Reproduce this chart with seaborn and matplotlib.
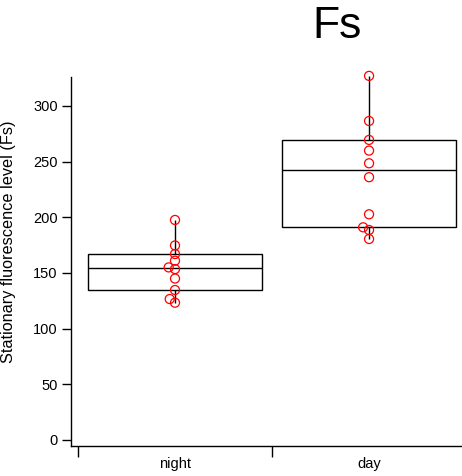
import matplotlib
matplotlib.use("Agg")
import matplotlib.pyplot as plt
import seaborn as sns
import pandas as pd
import numpy as np
from matplotlib.ticker import FixedLocator

sns.set_style("ticks")
plt.rcParams['font.family'] = ['Liberation Sans', 'DejaVu Sans']
plt.rcParams['text.color'] = 'black'
plt.rcParams['xtick.color'] = 'black'
plt.rcParams['ytick.color'] = 'black'
plt.rcParams['xtick.labelcolor'] = 'black'
plt.rcParams['ytick.labelcolor'] = 'black'

categories = ["night", "day"]
night_values = [197.6, 174.7, 167.0, 161.0, 155.0, 153.5, 145.0, 134.7, 126.6, 123.3]
day_values = [327.0, 286.5, 269.5, 259.9, 248.5, 236.0, 202.7, 191.0, 188.6, 180.5]
y_ticks = [0, 50, 100, 150, 200, 250, 300]

df = pd.DataFrame({
    "condition": ["night"] * len(night_values) + ["day"] * len(day_values),
    "Fs": night_values + day_values,
})

fig = plt.figure(figsize=(4.62, 4.76), dpi=100)
ax = fig.add_axes([71/462, 30/476, 391/462, 369/476])

sns.boxplot(data=df, x="condition", y="Fs", order=categories, ax=ax,
            width=0.9, whis=(0, 100), showcaps=False, color="white",
            linecolor="black", linewidth=1.0, fliersize=0,
            medianprops=dict(color="black", linewidth=1.0))

# Convert the boxes to Tukey hinges (median of lower / upper halves)
def hinges(vals):
    v = np.sort(np.asarray(vals))
    n = len(v)
    h = n // 2
    lower = v[:h + (n % 2)]
    upper = v[h:]
    return np.median(lower), np.median(upper)

groups = [night_values, day_values]
box_patches = [p for p in ax.patches]
for patch, vals in zip(box_patches, groups):
    q1, q3 = np.percentile(vals, [25, 75])
    h1, h3 = hinges(vals)
    path = patch.get_path()
    verts = path.vertices.copy()
    verts[np.isclose(verts[:, 1], q1), 1] = h1
    verts[np.isclose(verts[:, 1], q3), 1] = h3
    path.vertices = verts
    for line in ax.lines:
        yd = np.asarray(line.get_ydata(), dtype=float).copy()
        if len(yd) == 0:
            continue
        changed = False
        for old, new in [(q1, h1), (q3, h3)]:
            m = np.isclose(yd, old)
            if m.any():
                yd[m] = new
                changed = True
        if changed:
            line.set_ydata(yd)
for line in ax.lines:
    line.set_clip_on(False)

sns.swarmplot(data=df, x="condition", y="Fs", order=categories, ax=ax,
              size=4.5, color="red", zorder=5)

ax.set_xlim(-0.536, 1.479)
ax.set_ylim(-5.4, 326)
fig.canvas.draw()
for coll in ax.collections:
    if 'draw' in coll.__dict__:
        del coll.__dict__['draw']
    coll.set_sizes([6.5 ** 2])
    coll.set_facecolor("none")
    coll.set_edgecolor("red")
    coll.set_linewidth(0.9)
    coll.set_clip_on(False)

ax.set_yticks(y_ticks)
ax.set_yticklabels([str(t) for t in y_ticks], fontsize=10.5)
ax.set_xticks([0, 1])
ax.set_xticklabels(categories, fontsize=10.5)
ax.xaxis.set_minor_locator(FixedLocator([-0.5, 0.5, 1.5]))
ax.tick_params(axis="x", which="major", length=0, pad=8)
ax.tick_params(axis="x", which="minor", length=8, width=1, direction="out", color="black")
ax.tick_params(axis="y", length=6.5, width=1, color="black", pad=3)
ax.set_xlabel("")
ax.set_ylabel("")
for s in ["top", "right"]:
    ax.spines[s].set_visible(False)
for s in ["left", "bottom"]:
    ax.spines[s].set_color("black")
    ax.spines[s].set_linewidth(1)

fig.text(9/462, 1 - 242/476, "Stationary fluorescence level (Fs)", rotation=90,
         ha="center", va="center", fontsize=11.7, color="black")
fig.text(337/462, 1 - 26/476, "Fs", ha="center", va="center", fontsize=32, color="black")

fig.savefig("out.png", dpi=100)
